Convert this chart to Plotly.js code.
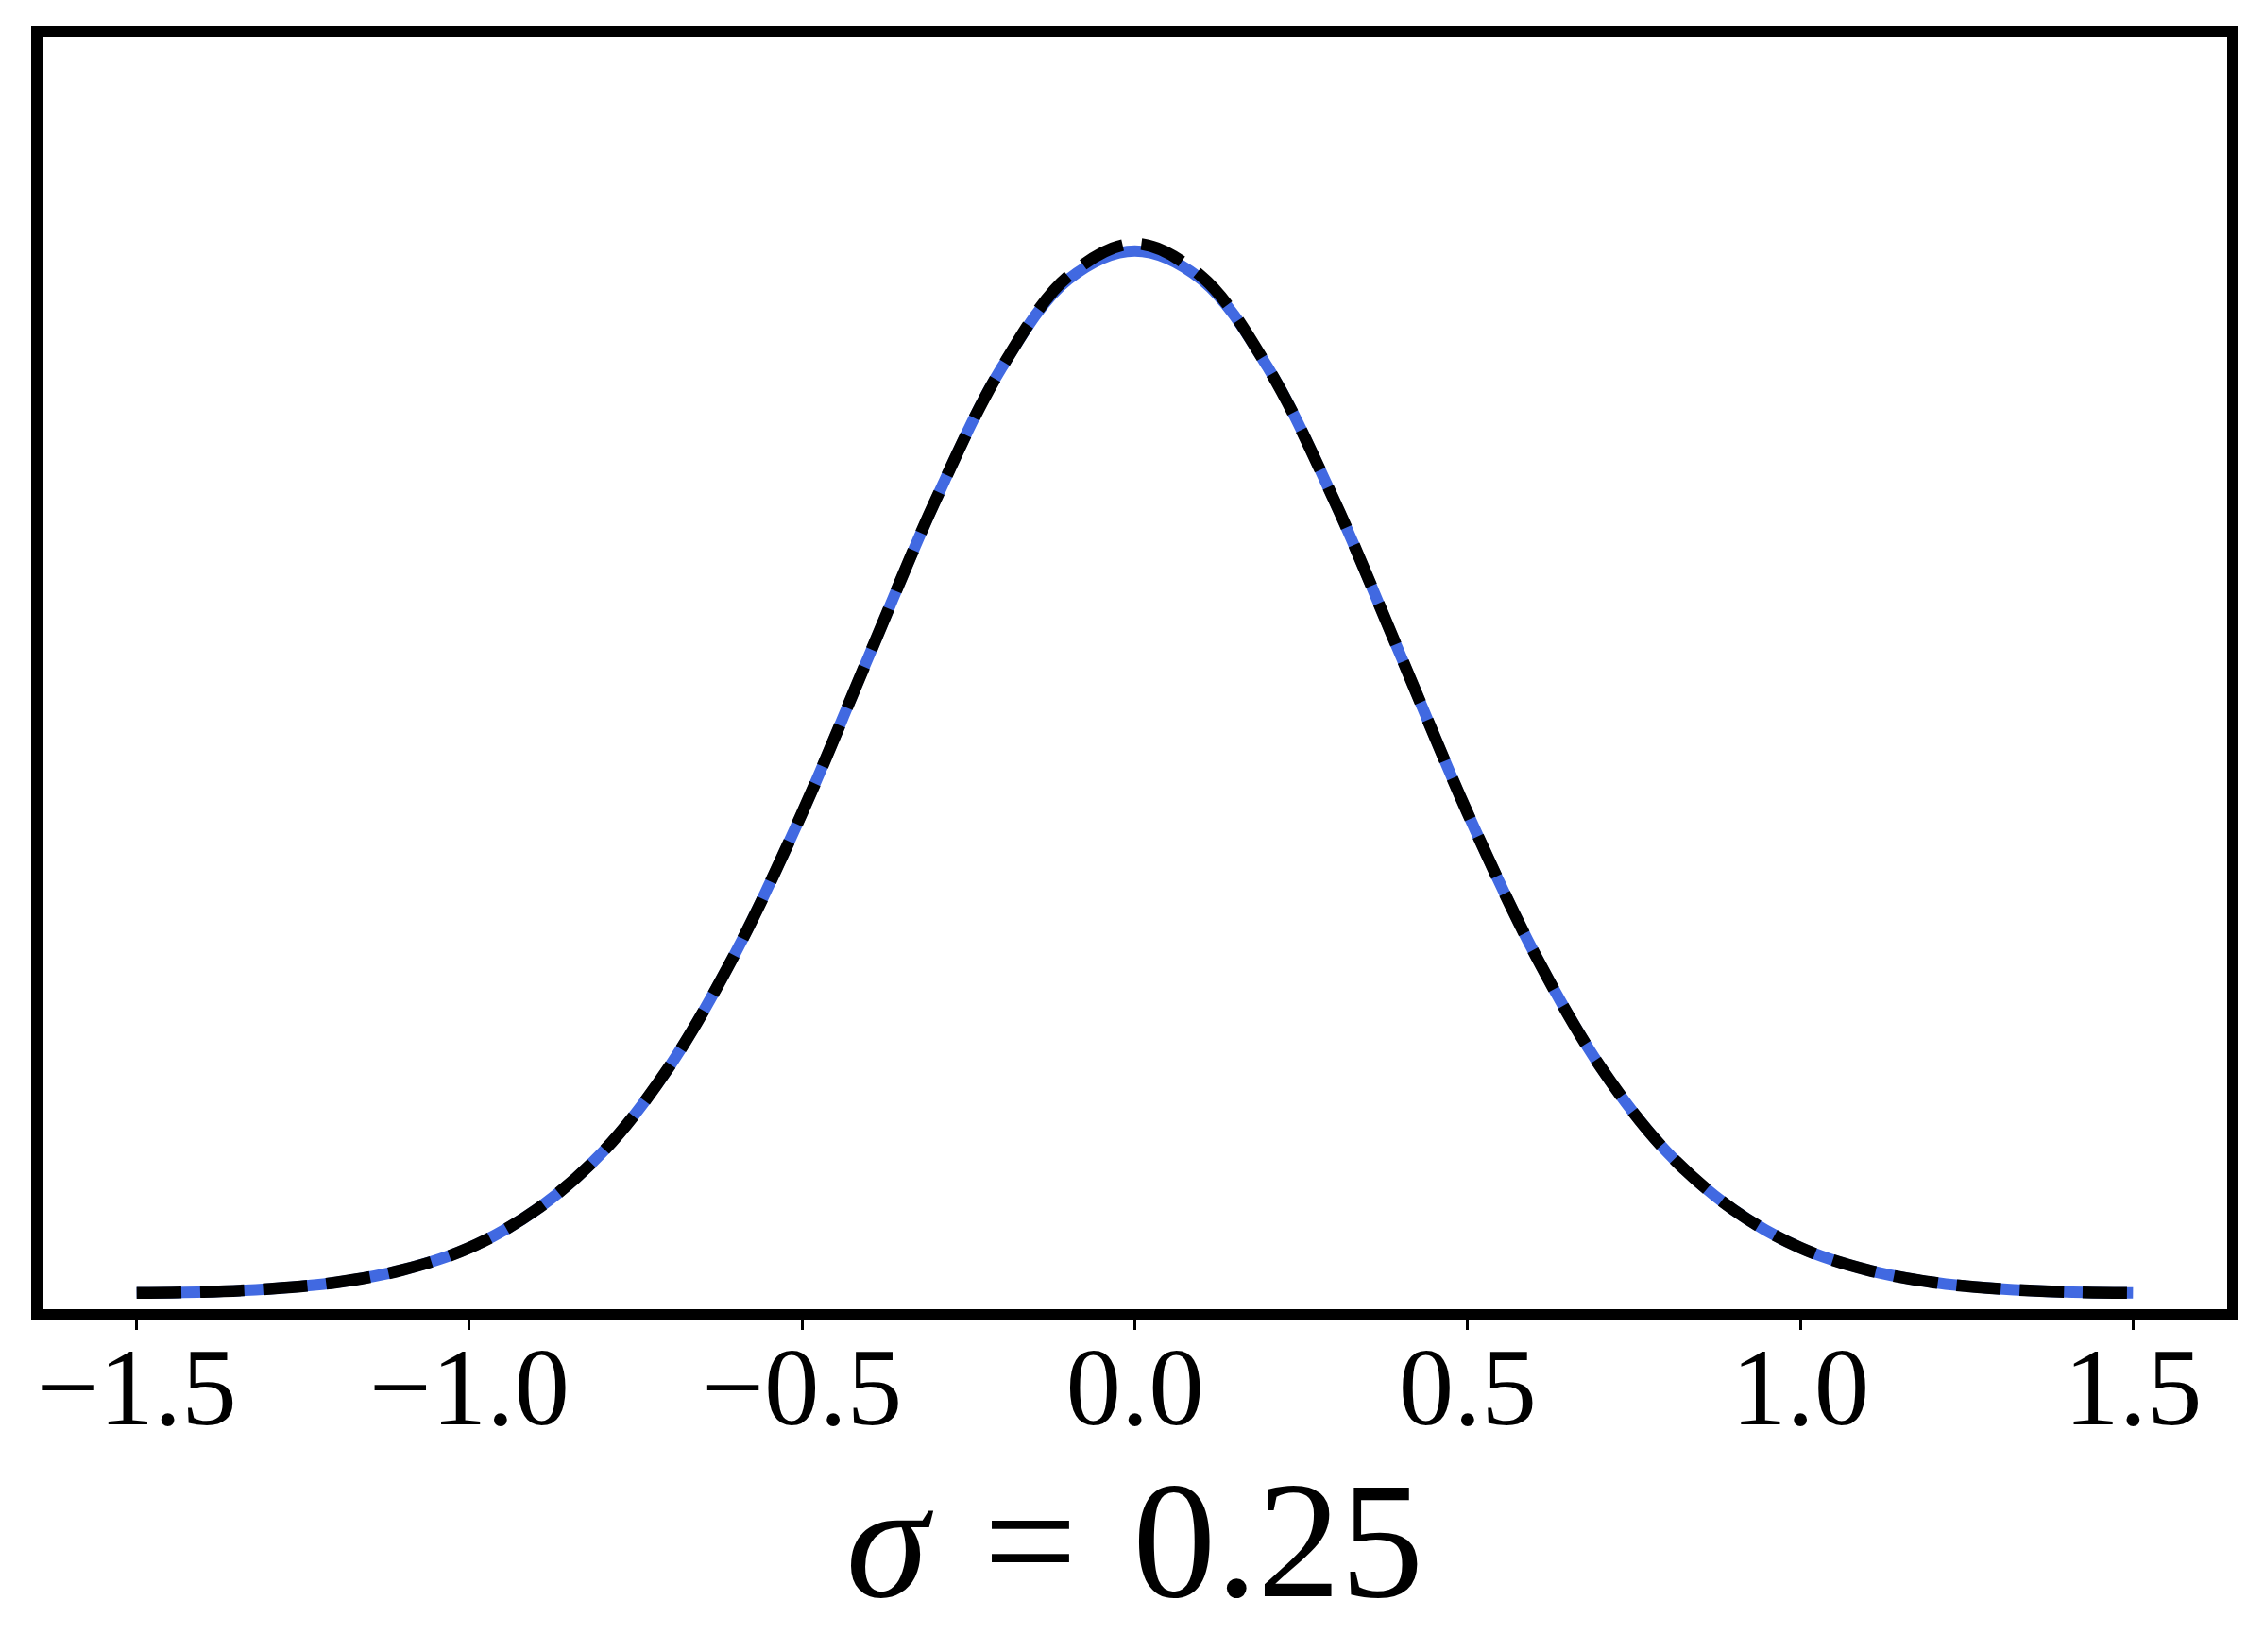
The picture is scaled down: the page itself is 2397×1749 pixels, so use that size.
<!DOCTYPE html>
<html>
<head>
<meta charset="utf-8">
<script src="https://cdn.plot.ly/plotly-3.0.1.min.js"></script>
<style>html,body{margin:0;padding:0;background:#fff;}#chart{width:2397px;height:1749px;}</style>
</head>
<body>
<div id="chart"></div>
<script>
// Sample positions along the horizontal axis
const xValues = [-1.5,-1.4,-1.3,-1.2,-1.1,-1.0,-0.9,-0.8,-0.7,-0.6,-0.5,-0.4,-0.3,-0.2,-0.1,0.0,
                 0.1,0.2,0.3,0.4,0.5,0.6,0.7,0.8,0.9,1.0,1.1,1.2,1.3,1.4,1.5];
// Blue solid curve (peak normalised to ~1)
const blueCurve = [0.001,0.002,0.005,0.011,0.023,0.044,0.080,0.135,0.216,0.325,0.458,0.607,0.755,0.882,0.966,0.993,
                   0.966,0.882,0.755,0.607,0.458,0.325,0.216,0.135,0.080,0.044,0.023,0.011,0.005,0.002,0.001];
// Black dashed curve
const blackCurve = [0.001,0.002,0.005,0.011,0.023,0.044,0.080,0.135,0.216,0.325,0.458,0.607,0.755,0.882,0.969,1.000,
                    0.969,0.882,0.755,0.607,0.458,0.325,0.216,0.135,0.080,0.044,0.023,0.011,0.005,0.002,0.001];
// Tick labels
const tickValues = [-1.5,-1.0,-0.5,0.0,0.5,1.0,1.5];
const tickLabels = ["\u22121.5","\u22121.0","\u22120.5","0.0","0.5","1.0","1.5"];
const axisTitle = "<i>\u03c3</i>\u2004=\u20040.25";

const serif = "Liberation Serif";

const traces = [
  {x: xValues, y: blueCurve, type: "scatter", mode: "lines",
   line: {color: "#4169E1", width: 12, shape: "spline", smoothing: 1}, hoverinfo: "skip"},
  {x: xValues, y: blackCurve, type: "scatter", mode: "lines",
   line: {color: "#000000", width: 12.5, dash: "47px,20px", shape: "spline", smoothing: 1}, hoverinfo: "skip"}
];

const layout = {
  width: 2397, height: 1749,
  margin: {l: 39, r: 33, t: 33, b: 357, pad: 0},
  paper_bgcolor: "#ffffff", plot_bgcolor: "#ffffff",
  showlegend: false,
  xaxis: {
    range: [-1.65, 1.65], showgrid: false, zeroline: false, showline: false,
    ticks: "outside", ticklen: 15, tickwidth: 3, tickcolor: "#000",
    tickmode: "array", tickvals: tickValues, ticktext: tickLabels,
    ticklabelstandoff: -40,
    tickfont: {family: serif, size: 117, color: "#000"},
    title: {text: axisTitle, font: {family: serif, size: 176, color: "#000"}, standoff: 13},
    automargin: false
  },
  yaxis: {
    range: [-0.0198, 1.2023], showgrid: false, zeroline: false, showline: false,
    showticklabels: false, ticks: "", automargin: false
  },
  shapes: [{type: "rect", xref: "paper", yref: "paper", x0: 0, x1: 1, y0: 0, y1: 1,
            line: {color: "#000", width: 12}, fillcolor: "rgba(0,0,0,0)", layer: "above"}]
};

Plotly.newPlot("chart", traces, layout, {staticPlot: true, displayModeBar: false});
</script>
</body>
</html>
